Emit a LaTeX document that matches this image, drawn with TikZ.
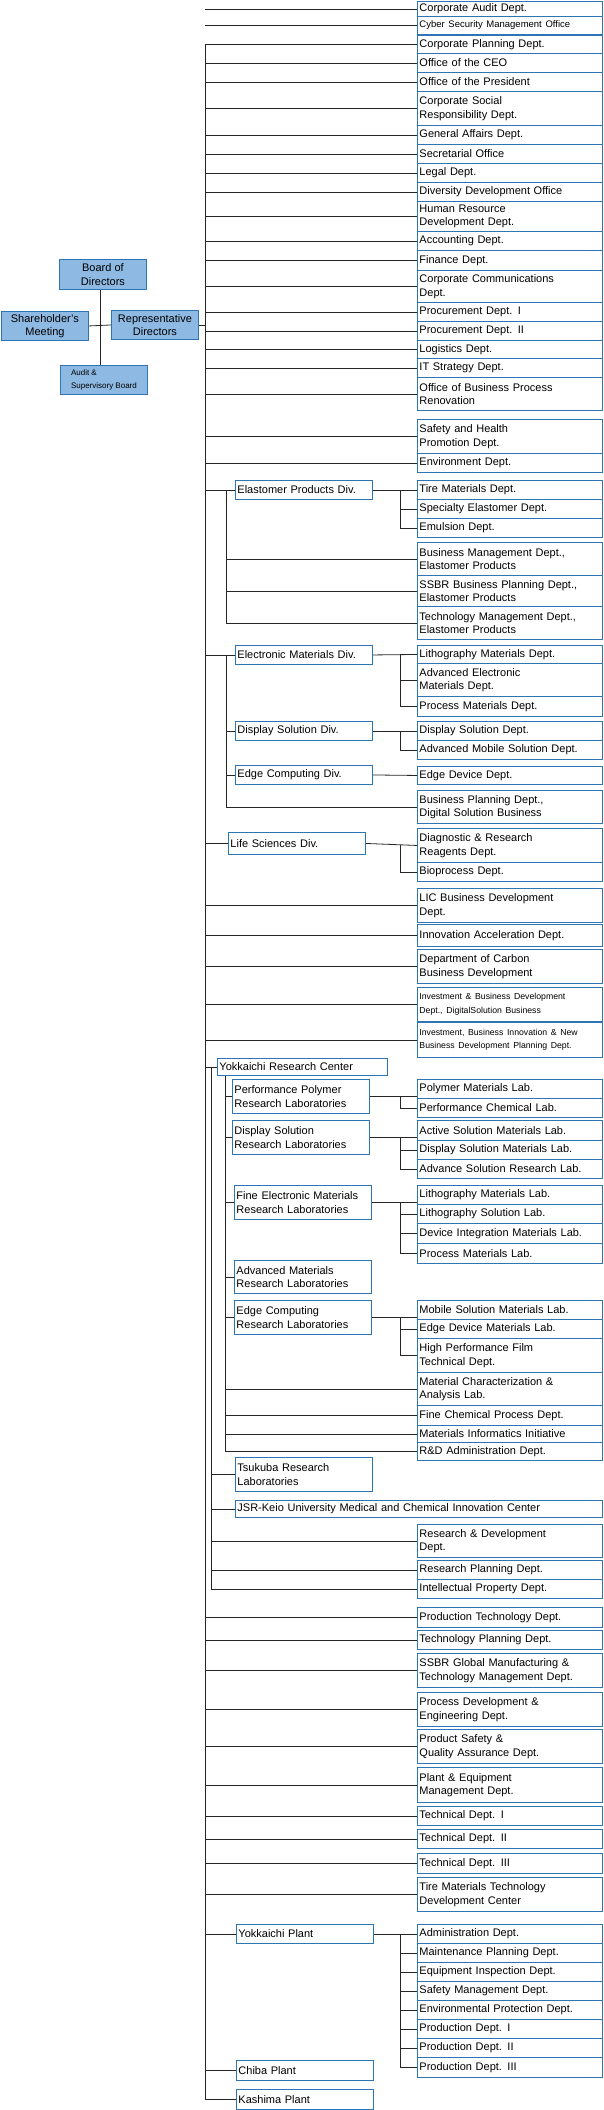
\documentclass[tikz,border=0pt]{standalone}
\usepackage{fontspec}
\setmainfont{Liberation Sans}
\usepackage{tikz}
\usetikzlibrary{positioning}

\definecolor{boxblue}{RGB}{46,117,182}
\definecolor{lblue}{RGB}{141,185,227}

\tikzset{
  dept/.style={draw=boxblue, line width=0.9pt, fill=white, anchor=north west,
    minimum width=185pt, text width=181pt, inner sep=2pt, align=left,
    font=\fontsize{11}{13.5}\selectfont},
  divbox/.style={draw=boxblue, line width=0.9pt, fill=white, anchor=north west,
    minimum width=137pt, text width=133pt, inner sep=2pt, align=left,
    font=\fontsize{11}{13.5}\selectfont},
  topbox/.style={draw=boxblue, line width=0.9pt, fill=lblue, anchor=north west,
    minimum width=87pt, inner sep=1pt, align=center,
    font=\fontsize{11}{13.5}\selectfont},
  link/.style={draw=black!85, line width=0.8pt}
}

% right column department
\newcommand{\dept}[4]{\node[dept, minimum height=#3pt] (#1) at (417,#2) {#4};}

\begin{document}
\begin{tikzpicture}[x=1pt, y=-1pt]
	\useasboundingbox (0,0) rectangle (604,2110);
	\coordinate (trunk) at (205,0);
	\coordinate (sub) at (226,0);
	\coordinate (rtrunk) at (211,0);
	\coordinate (lab) at (225,0);
	\coordinate (fork) at (400,0);

	% governing bodies
	\node[topbox, minimum height=30pt] (board) at (59,259) {Board of\\Directors};
	\node[topbox, minimum height=29pt] (share) at (1,311) {Shareholder's\\Meeting};
	\node[topbox, minimum height=29pt] (rep) at (111,310) {Representative\\Directors};
	\node[topbox, minimum height=29pt, font=\fontsize{8}{13}\selectfont, align=left] (audit) at (60,365) {Audit \&\\Supervisory Board};
	\draw[link] (board.south -| 100,0) -- (audit.north -| 100,0);
	\draw[link] (share.east) -- (rep.west);
	\draw[link] (rep.east) -- (rep.east -| trunk);

	% corporate departments
	\dept{caud}{1}{15}{Corporate Audit Dept.}
	\dept{cyber}{16}{18}{\fontsize{9.5}{11}\selectfont Cyber Security Management Office}
	\dept{cpl}{35}{18}{Corporate Planning Dept.}
	\dept{ceo}{53}{19}{Office of the CEO}
	\dept{pres}{72}{19}{Office of the President}
	\dept{csr}{91}{34}{Corporate Social\\Responsibility Dept.}
	\dept{gad}{125}{19}{General Affairs Dept.}
	\dept{sec}{144}{19}{Secretarial Office}
	\dept{legal}{163}{19}{Legal Dept.}
	\dept{ddo}{182}{19}{Diversity Development Office}
	\dept{hrd}{201}{30}{Human Resource\\Development Dept.}
	\dept{acc}{231}{19}{Accounting Dept.}
	\dept{fin}{250}{20}{Finance Dept.}
	\dept{ccd}{270}{32}{Corporate Communications\\Dept.}
	\dept{proc1}{302}{19}{Procurement Dept. I}
	\dept{proc2}{321}{19}{Procurement Dept. II}
	\dept{logi}{340}{18}{Logistics Dept.}
	\dept{its}{358}{19}{IT Strategy Dept.}
	\dept{obpr}{377}{33}{Office of Business Process\\Renovation}
	\dept{shp}{419}{34}{Safety and Health\\Promotion Dept.}
	\dept{env}{453}{19}{Environment Dept.}
	\draw[link] (caud.west) -- (caud.west -| trunk);
	\draw[link] (cyber.west) -- (cyber.west -| trunk);
	\foreach \n in {cpl,ceo,pres,csr,gad,sec,legal,ddo,hrd,acc,fin,ccd,proc1,proc2,logi,its,obpr,shp,env}
		\draw[link] (\n.west) -- (\n.west -| trunk);

	% elastomer products
	\node[divbox, minimum height=19pt, minimum width=136pt] (elast) at (235,480) {Elastomer Products Div.};
	\dept{tire}{480}{19}{Tire Materials Dept.}
	\dept{spec}{499}{19}{Specialty Elastomer Dept.}
	\dept{emul}{518}{19}{Emulsion Dept.}
	\dept{bme}{542}{33}{Business Management Dept.,\\Elastomer Products}
	\dept{ssbr}{575}{31}{SSBR Business Planning Dept.,\\Elastomer Products}
	\dept{tme}{606}{33}{Technology Management Dept.,\\Elastomer Products}
	\draw[link] (elast.west) -- (elast.west -| trunk);
	\draw[link] (elast.west -| sub) |- (tme.west);
	\draw[link] (bme.west) -- (bme.west -| sub);
	\draw[link] (ssbr.west) -- (ssbr.west -| sub);
	\draw[link] (elast.east) -- (tire.west);
	\draw[link] (tire.west -| fork) |- (emul.west);
	\draw[link] (spec.west) -- (spec.west -| fork);

	% electronic materials
	\node[divbox, minimum height=19pt, minimum width=136pt] (elec) at (235,645) {Electronic Materials Div.};
	\dept{litho}{645}{18}{Lithography Materials Dept.}
	\dept{aem}{663}{33}{Advanced Electronic\\Materials Dept.}
	\dept{pmd}{696}{20}{Process Materials Dept.}
	\node[divbox, minimum height=19pt, minimum width=136pt] (disp) at (235,721) {Display Solution Div.};
	\dept{dsd}{721}{19}{Display Solution Dept.}
	\dept{amsd}{740}{19}{Advanced Mobile Solution Dept.}
	\node[divbox, minimum height=19pt, minimum width=136pt] (edge) at (235,765) {Edge Computing Div.};
	\dept{edd}{766}{18}{Edge Device Dept.}
	\dept{bpd}{790}{33}{Business Planning Dept.,\\Digital Solution Business}
	\draw[link] (elec.west) -- (elec.west -| trunk);
	\draw[link] (elec.west -| sub) |- (bpd.west);
	\draw[link] (disp.west) -- (disp.west -| sub);
	\draw[link] (edge.west) -- (edge.west -| sub);
	\draw[link] (elec.east) -- (litho.west);
	\draw[link] (litho.west -| fork) |- (pmd.west);
	\draw[link] (aem.west) -- (aem.west -| fork);
	\draw[link] (disp.east) -- (dsd.west);
	\draw[link] (dsd.west -| fork) |- (amsd.west);
	\draw[link] (edge.east) -- (edd.west);

	% life sciences
	\node[divbox, minimum height=22pt, minimum width=137pt] (life) at (228,832) {Life Sciences Div.};
	\dept{drr}{828}{34}{Diagnostic \& Research\\Reagents Dept.}
	\dept{bio}{862}{19}{Bioprocess Dept.}
	\draw[link] (life.west) -- (life.west -| trunk);
	\draw[link] (life.east) -- (drr.west);
	\draw[link] (drr.west -| fork) |- (bio.west);

	% business development
	\dept{lic}{888}{34}{LIC Business Development\\Dept.}
	\dept{iad}{924}{22}{Innovation Acceleration Dept.}
	\dept{dcb}{949}{34}{Department of Carbon\\Business Development}
	\dept{ibd}{987}{34}{\fontsize{8.7}{13}\selectfont Investment \& Business Development\\Dept., DigitalSolution Business}
	\dept{ibi}{1022}{35}{\fontsize{8.7}{13}\selectfont Investment, Business Innovation \& New\\Business Development Planning Dept.}
	\foreach \n in {lic,iad,dcb,ibd,ibi}
		\draw[link] (\n.west) -- (\n.west -| trunk);

	% research
	\node[divbox, minimum height=17pt, minimum width=170pt, text width=166pt] (yrc) at (217,1058) {Yokkaichi Research Center};
	\node[divbox, minimum height=34pt] (ppl) at (232,1079) {Performance Polymer\\Research Laboratories};
	\dept{pml}{1079}{19}{Polymer Materials Lab.}
	\dept{pcl}{1098}{19}{Performance Chemical Lab.}
	\node[divbox, minimum height=34pt] (dsl) at (232,1120) {Display Solution\\Research Laboratories};
	\dept{asml}{1120}{20}{Active Solution Materials Lab.}
	\dept{dsml}{1140}{19}{Display Solution Materials Lab.}
	\dept{asrl}{1159}{19}{Advance Solution Research Lab.}
	\node[divbox, minimum height=34pt] (fem) at (234,1185) {Fine Electronic Materials\\Research Laboratories};
	\dept{lml}{1185}{19}{Lithography Materials Lab.}
	\dept{lsl}{1204}{19}{Lithography Solution Lab.}
	\dept{diml}{1223}{20}{Device Integration Materials Lab.}
	\dept{prml}{1243}{20}{Process Materials Lab.}
	\node[divbox, minimum height=33pt] (aml) at (234,1260) {Advanced Materials\\Research Laboratories};
	\node[divbox, minimum height=34pt] (ecl) at (234,1300) {Edge Computing\\Research Laboratories};
	\dept{msml}{1300}{19}{Mobile Solution Materials Lab.}
	\dept{edml}{1319}{19}{Edge Device Materials Lab.}
	\dept{hpf}{1338}{34}{High Performance Film\\Technical Dept.}
	\dept{mca}{1372}{33}{Material Characterization \&\\Analysis Lab.}
	\dept{fcp}{1405}{20}{Fine Chemical Process Dept.}
	\dept{mii}{1425}{17}{Materials Informatics Initiative}
	\dept{rda}{1442}{18}{R\&D Administration Dept.}
	\node[divbox, minimum height=34pt] (tsu) at (235,1457) {Tsukuba Research\\Laboratories};
	\node[dept, minimum height=17pt, minimum width=367pt, text width=363pt] (jsr) at (235,1500) {JSR-Keio University Medical and Chemical Innovation Center};
	\dept{rdd}{1524}{33}{Research \& Development\\Dept.}
	\dept{rpd}{1560}{19}{Research Planning Dept.}
	\dept{ipd}{1579}{19}{Intellectual Property Dept.}
	\draw[link] (yrc.west) -- (yrc.west -| trunk);
	\draw[link] (yrc.west -| rtrunk) |- (ipd.west);
	\draw[link] (lab |- yrc.south) |- (rda.west);
	\foreach \n in {ppl,dsl,fem,aml,ecl,mca,fcp,mii}
		\draw[link] (\n.west) -- (\n.west -| lab);
	\foreach \n in {tsu,jsr,rdd,rpd}
		\draw[link] (\n.west) -- (\n.west -| rtrunk);
	\draw[link] (ppl.east) -- (ppl.east -| pml.west);
	\draw[link] (ppl.east -| fork) |- (pcl.west);
	\draw[link] (dsl.east) -- (dsl.east -| asml.west);
	\draw[link] (dsl.east -| fork) |- (asrl.west);
	\draw[link] (dsml.west) -- (dsml.west -| fork);
	\draw[link] (fem.east) -- (fem.east -| lml.west);
	\draw[link] (fem.east -| fork) |- (prml.west);
	\foreach \n in {lsl,diml}
		\draw[link] (\n.west) -- (\n.west -| fork);
	\draw[link] (ecl.east) -- (ecl.east -| msml.west);
	\draw[link] (ecl.east -| fork) |- (hpf.west);
	\draw[link] (edml.west) -- (edml.west -| fork);

	% production
	\dept{ptd}{1607}{20}{Production Technology Dept.}
	\dept{tpd}{1630}{19}{Technology Planning Dept.}
	\dept{ssbrg}{1653}{34}{SSBR Global Manufacturing \&\\Technology Management Dept.}
	\dept{pde}{1692}{34}{Process Development \&\\Engineering Dept.}
	\dept{psq}{1729}{34}{Product Safety \&\\Quality Assurance Dept.}
	\dept{ped}{1767}{35}{Plant \& Equipment\\Management Dept.}
	\dept{td1}{1806}{19}{Technical Dept. I}
	\dept{td2}{1829}{19}{Technical Dept. II}
	\dept{td3}{1853}{20}{Technical Dept. III}
	\dept{tmt}{1877}{34}{Tire Materials Technology\\Development Center}
	\foreach \n in {ptd,tpd,ssbrg,pde,psq,ped,td1,td2,td3,tmt}
		\draw[link] (\n.west) -- (\n.west -| trunk);

	% plants
	\node[divbox, minimum height=19pt] (ykp) at (236,1924) {Yokkaichi Plant};
	\dept{adm}{1924}{19}{Administration Dept.}
	\dept{mpd}{1943}{19}{Maintenance Planning Dept.}
	\dept{eid}{1962}{19}{Equipment Inspection Dept.}
	\dept{smd}{1981}{19}{Safety Management Dept.}
	\dept{epd}{2000}{19}{Environmental Protection Dept.}
	\dept{pd1}{2019}{19}{Production Dept.\enspace I}
	\dept{pd2}{2038}{19}{Production Dept.\enspace II}
	\dept{pd3}{2057}{20}{Production Dept.\enspace III}
	\node[divbox, minimum height=20pt] (chiba) at (236,2060) {Chiba Plant};
	\node[divbox, minimum height=20pt] (kashima) at (236,2089) {Kashima Plant};
	\draw[link] (ykp.east) -- (adm.west);
	\draw[link] (adm.west -| fork) |- (pd3.west);
	\foreach \n in {mpd,eid,smd,epd,pd1,pd2}
		\draw[link] (\n.west) -- (\n.west -| fork);
	\foreach \n in {ykp,chiba}
		\draw[link] (\n.west) -- (\n.west -| trunk);

	% main trunk
	\draw[link] (trunk |- cpl.west) |- (kashima.west);
\end{tikzpicture}
\end{document}
